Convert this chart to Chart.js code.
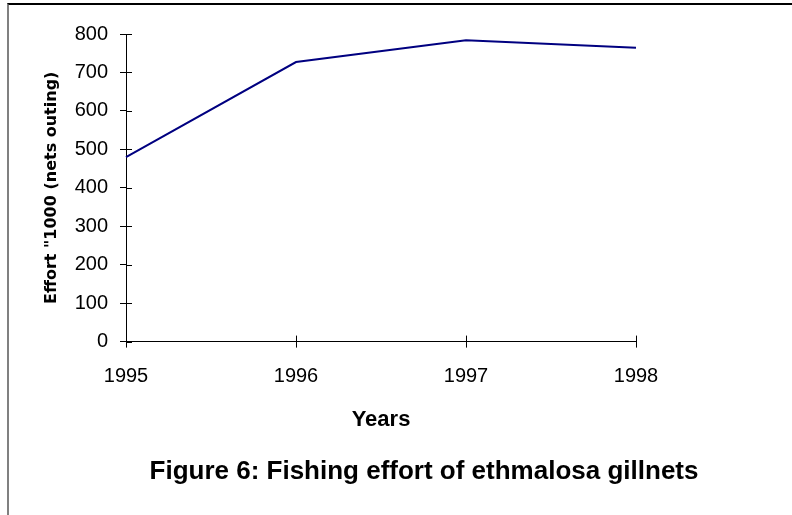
<!DOCTYPE html>
<html>
<head>
<meta charset="utf-8">
<script src="https://cdn.jsdelivr.net/npm/chart.js@4/dist/chart.umd.min.js"></script>
<style>
  body { margin: 0; background: #fff; overflow: hidden; }
  #frame { position: absolute; left: 7px; top: 3px; width: 785px; height: 512px;
           border-top: 2px solid #000; border-left: 2px solid #808080; }
  #chart { position: absolute; left: 0; top: 0; }
  #caption { position: absolute; left: 124px; width: 600px; top: 455px; line-height: 30px;
             text-align: center; font: bold 26px "Liberation Sans", Arial, sans-serif; color: #000; }
</style>
</head>
<body>
<div id="frame"></div>
<canvas id="chart" width="792" height="515"></canvas>
<div id="caption">Figure 6: Fishing effort of ethmalosa gillnets</div>
<script>
// datos
const years = ['1995', '1996', '1997', '1998'];
const effort = [480, 727, 784, 764];
const yTicks = [0, 100, 200, 300, 400, 500, 600, 700, 800];

// marcas de tick hacia dentro (cruzan el eje)
const innerTicks = {
  id: 'innerTicks',
  afterDraw(chart) {
    const ctx = chart.ctx;
    const xs = chart.scales.x, ys = chart.scales.y;
    ctx.save();
    ctx.strokeStyle = '#000';
    ctx.lineWidth = 1;
    ctx.beginPath();
    xs.ticks.forEach((t, i) => {
      const px = Math.round(xs.getPixelForTick(i)) + 0.5;
      ctx.moveTo(px, xs.top);
      ctx.lineTo(px, xs.top - 6);
    });
    ys.ticks.forEach((t, i) => {
      const py = Math.round(ys.getPixelForTick(i)) + 0.5;
      ctx.moveTo(ys.right, py);
      ctx.lineTo(ys.right + 6, py);
    });
    ctx.stroke();
    ctx.restore();
  }
};

const tickFont = { family: '"Liberation Sans", Arial, sans-serif', size: 20 };

new Chart(document.getElementById('chart'), {
  type: 'line',
  data: {
    labels: years,
    datasets: [{
      data: effort,
      borderColor: '#000080',
      borderWidth: 2,
      pointRadius: 0,
      tension: 0,
      fill: false
    }]
  },
  options: {
    responsive: false,
    animation: false,
    layout: { padding: { top: 34, right: 156, bottom: 82, left: 0 } },
    plugins: { legend: { display: false }, tooltip: { enabled: false } },
    scales: {
      x: {
        offset: false,
        grid: { drawOnChartArea: false, tickLength: 6, color: '#000' },
        border: { color: '#000', width: 1 },
        ticks: { color: '#000', padding: 17, maxRotation: 0, font: tickFont },
        title: { display: true, text: 'Years', color: '#000',
                 padding: { top: 1, bottom: 0 },
                 font: { family: '"Liberation Sans", Arial, sans-serif', size: 22, weight: 'bold' } }
      },
      y: {
        min: 0, max: 800,
        afterBuildTicks(scale) { scale.ticks = yTicks.map(v => ({ value: v })); },
        afterFit(scale) { scale.width = 126; },
        grid: { drawOnChartArea: false, tickLength: 6, color: '#000' },
        border: { color: '#000', width: 1 },
        ticks: { color: '#000', padding: 12, font: tickFont },
        title: { display: true, text: 'Effort "1000 (nets outing)', color: '#000',
                 padding: { top: 42, bottom: 0 },
                 font: { family: '"DejaVu Sans", sans-serif', size: 16, weight: 'bold' } }
      }
    }
  },
  plugins: [innerTicks]
});
</script>
</body>
</html>
